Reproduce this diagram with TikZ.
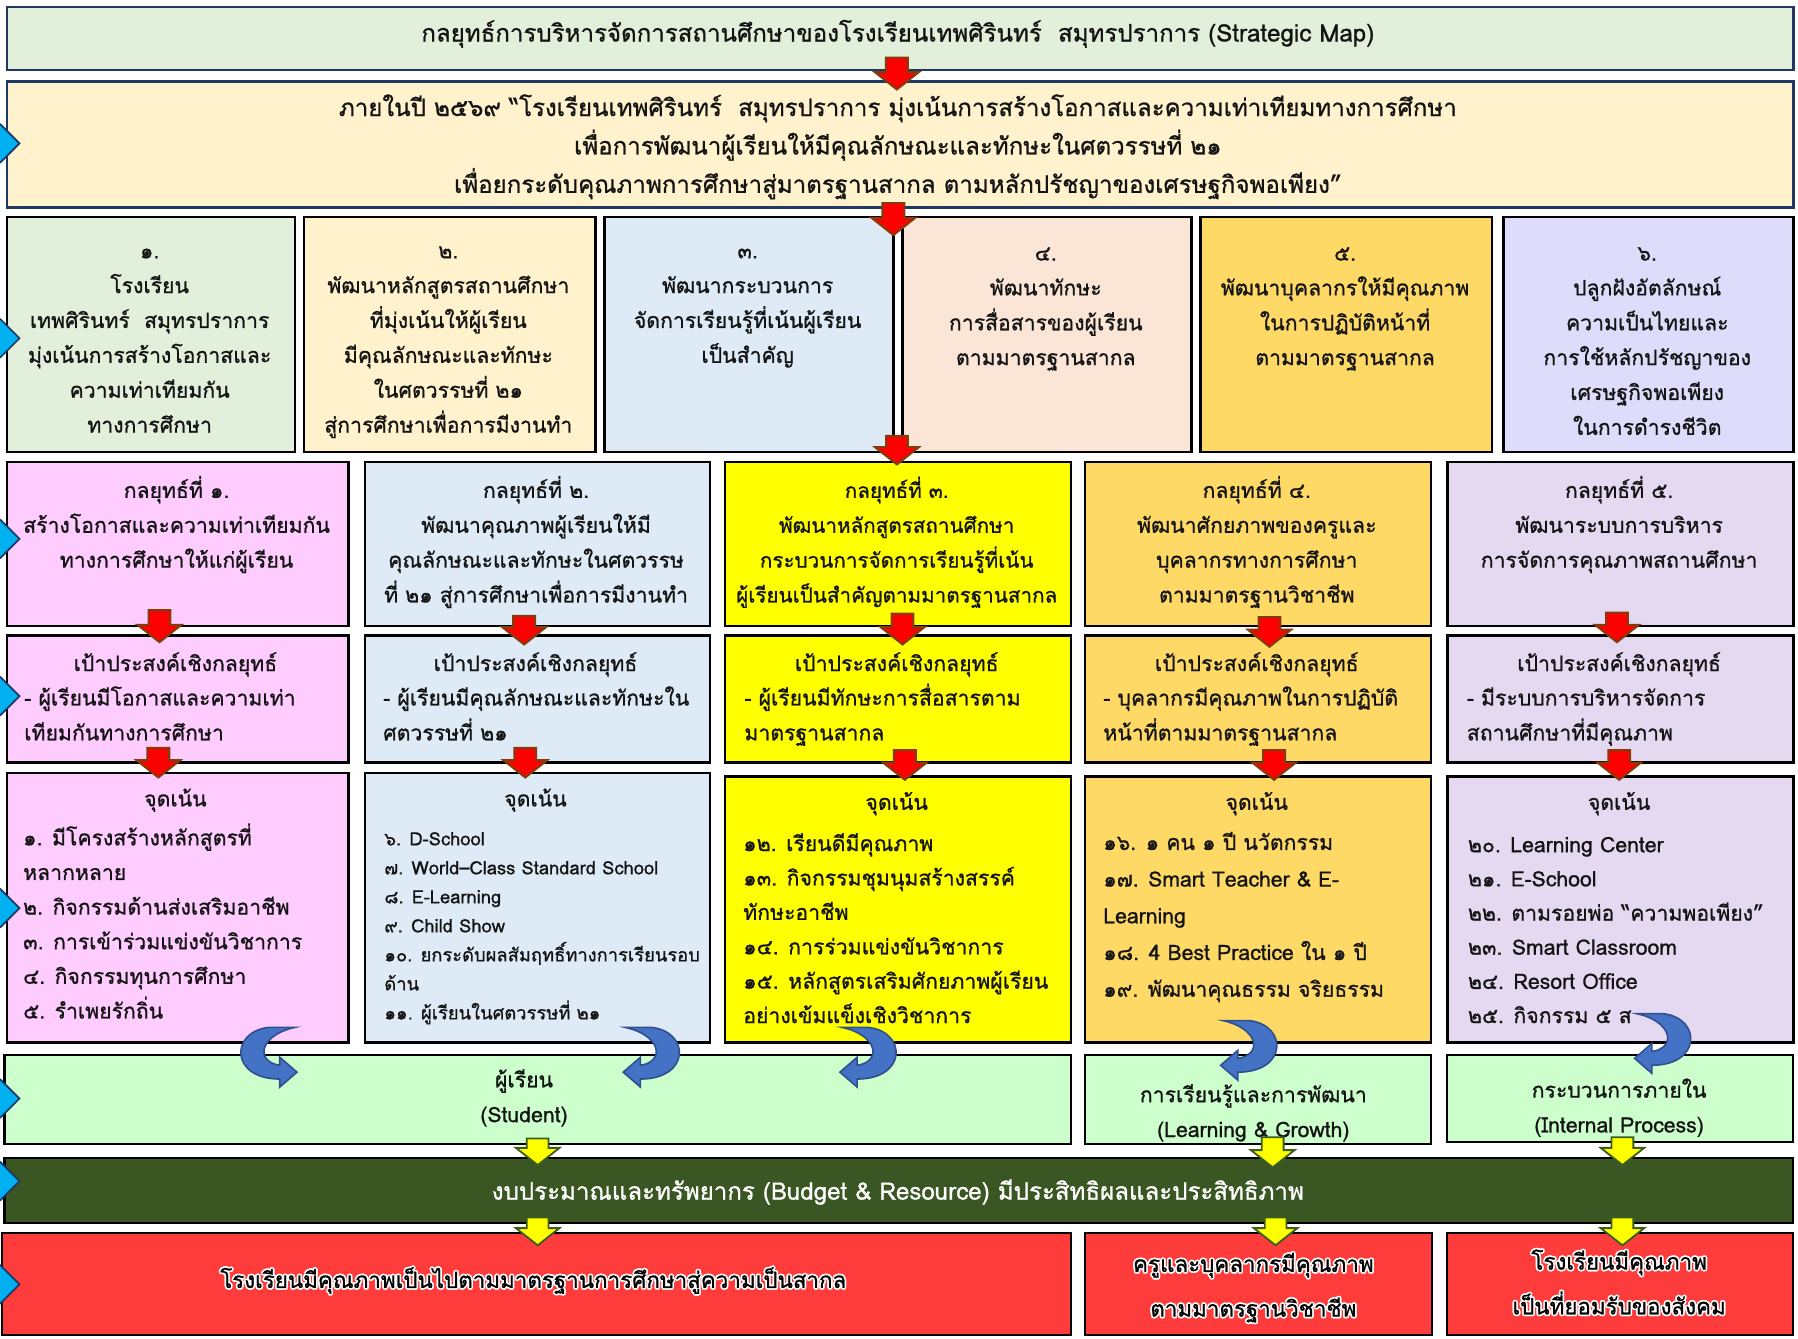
\documentclass[tikz,border=0pt]{standalone}
\usepackage{fontspec}
\setmainfont[Script=Thai, FakeBold=0.9]{Loma}
\usetikzlibrary{calc}
\definecolor{cTitle}{HTML}{E2EFDA}
\definecolor{cVision}{HTML}{FFF2CC}
\definecolor{cBlue}{HTML}{DEEBF7}
\definecolor{cPeach}{HTML}{FBE5D6}
\definecolor{cGold}{HTML}{FFD966}
\definecolor{cLav}{HTML}{DDDDFB}
\definecolor{cPink}{HTML}{FFCCFF}
\definecolor{cYel}{HTML}{FFFF00}
\definecolor{cLavB}{HTML}{E5D9F2}
\definecolor{cMint}{HTML}{CCFFCC}
\definecolor{cBudget}{HTML}{3A5623}
\definecolor{cRed}{HTML}{FF3C3C}
\definecolor{cNavy}{HTML}{1F3864}
\definecolor{cArrRed}{HTML}{FF0000}
\definecolor{cArrBrd}{HTML}{843C0C}
\definecolor{cArrYel}{HTML}{FFFF00}
\definecolor{cArrYelBrd}{HTML}{3B5E1E}
\definecolor{cCurv}{HTML}{4472C4}
\definecolor{cCurvBrd}{HTML}{2F4F8F}
\definecolor{cMark}{HTML}{00B0F0}
\definecolor{cTxt}{HTML}{141414}

\tikzset{
 boxbase/.style={draw=black, line width=2.2pt, anchor=north west, inner sep=0pt},
 navybox/.style={boxbase, draw=cNavy},
 thinbox/.style={boxbase, line width=1.8pt},
 txt/.style={inner sep=0pt, align=center, anchor=north, text=cTxt, font=\fontsize{18.5}{30.4}\selectfont},
 ltxt/.style={txt, align=left, anchor=north west},
 redarr/.style={fill=cArrRed, draw=cArrBrd, line width=1.8pt, line join=miter},
 yelarr/.style={fill=cArrYel, draw=cArrYelBrd, line width=1.6pt, line join=miter},
 curvarr/.style={fill=cCurv, draw=cCurvBrd, line width=1.4pt},
}

\newcommand\bx[6]{\node[#6, minimum width={#4-#2}, minimum height={#5-#3}] (#1) at (#2,#3) {};}
\newcommand\st{\rule{0pt}{22pt}}
\newcommand\blockarr[3]{\draw[#1] let \p1=#2, \p2=#3 in (\x1-9.5pt,\y1) -- (\x1+9.5pt,\y1) -- (\x1+9.5pt,\y2+15pt) -- (\x1+19pt,\y2+15pt) -- (\x1,\y2) -- (\x1-19pt,\y2+15pt) -- (\x1-9.5pt,\y2+15pt) -- cycle;}
\newcommand\curv[3]{\begin{scope}[shift={(#1,#2)}, xscale=#3]
 \filldraw[curvarr] (-11.5,0) .. controls (-45,4) and (-45,45) .. (-1.5,45) -- (-1.5,52) -- (13.5,39) -- (-1.5,26) -- (-1.5,33) .. controls (-23,30) and (-20,7) .. (11.5,0) -- cycle;
 \end{scope}}
\newcommand\glow[1]{\leavevmode\rlap{\color{white}\kern1.5pt#1}\rlap{\color{white}\kern-1.5pt#1}\rlap{\color{white}\raisebox{1.5pt}{#1}}\rlap{\color{white}\raisebox{-1.5pt}{#1}}\rlap{\color{white}\kern1.1pt\raisebox{1.1pt}{#1}}\rlap{\color{white}\kern-1.1pt\raisebox{1.1pt}{#1}}\rlap{\color{white}\kern1.1pt\raisebox{-1.1pt}{#1}}\rlap{\color{white}\kern-1.1pt\raisebox{-1.1pt}{#1}}#1}

\begin{document}
\begin{tikzpicture}[x=1pt,y=-1pt]
\fill[white] (0,0) rectangle (1568,1167);
\useasboundingbox (0,0) rectangle (1568,1167);

% ---- title and vision
\bx{title}{5}{5}{1563}{60}{navybox, fill=cTitle}
\node[txt, font=\fontsize{21}{30}\selectfont] (titlet) at (783,14) {\st กลยุทธ์การบริหารจัดการสถานศึกษาของโรงเรียนเทพศิรินทร์~~สมุทรปราการ (Strategic Map)};
\bx{vision}{5}{70}{1563}{180}{navybox, fill=cVision}
\node[txt, font=\fontsize{21}{33.5}\selectfont] (visiont) at (783,79) {\st ภายในปี ๒๕๖๙ “โรงเรียนเทพศิรินทร์~~สมุทรปราการ มุ่งเน้นการสร้างโอกาสและความเท่าเทียมทางการศึกษา\\ เพื่อการพัฒนาผู้เรียนให้มีคุณลักษณะและทักษะในศตวรรษที่ ๒๑\\ เพื่อยกระดับคุณภาพการศึกษาสู่มาตรฐานสากล ตามหลักปรัชญาของเศรษฐกิจพอเพียง”};

% ---- missions
\bx{p1}{5}{188}{256}{393}{boxbase, fill=cTitle}
\bx{p2}{264}{188}{518}{393}{boxbase, fill=cVision}
\bx{p3}{526}{188}{778}{393}{boxbase, fill=cBlue}
\bx{p4}{786}{188}{1038}{393}{boxbase, fill=cPeach}
\bx{p5}{1046}{188}{1300}{393}{boxbase, fill=cGold}
\bx{p6}{1310}{188}{1563}{393}{boxbase, fill=cLav}
\node[txt] (p1t) at (130.5,203) {\st ๑.\\ โรงเรียน\\ เทพศิรินทร์~~สมุทรปราการ\\ มุ่งเน้นการสร้างโอกาสและ\\ ความเท่าเทียมกัน\\ ทางการศึกษา};
\node[txt] (p2t) at (391,203) {\st ๒.\\ พัฒนาหลักสูตรสถานศึกษา\\ ที่มุ่งเน้นให้ผู้เรียน\\ มีคุณลักษณะและทักษะ\\ ในศตวรรษที่ ๒๑\\ สู่การศึกษาเพื่อการมีงานทำ};
\node[txt] (p3t) at (652,203) {\st ๓.\\ พัฒนากระบวนการ\\ จัดการเรียนรู้ที่เน้นผู้เรียน\\ เป็นสำคัญ};
\node[txt] (p4t) at (912,205) {\st ๔.\\ พัฒนาทักษะ\\ การสื่อสารของผู้เรียน\\ ตามมาตรฐานสากล};
\node[txt] (p5t) at (1173,205) {\st ๕.\\ พัฒนาบุคลากรให้มีคุณภาพ\\ ในการปฏิบัติหน้าที่\\ ตามมาตรฐานสากล};
\node[txt] (p6t) at (1436.5,205) {\st ๖.\\ ปลูกฝังอัตลักษณ์\\ ความเป็นไทยและ\\ การใช้หลักปรัชญาของ\\ เศรษฐกิจพอเพียง\\ ในการดำรงชีวิต};

% ---- strategies
\bx{s1}{5}{402}{303}{545}{boxbase, fill=cPink}
\bx{s2}{317}{402}{618}{545}{boxbase, fill=cBlue}
\bx{s3}{631}{402}{933}{545}{boxbase, fill=cYel}
\bx{s4}{945}{402}{1247}{545}{boxbase, fill=cGold}
\bx{s5}{1261}{402}{1563}{545}{boxbase, fill=cLavB}
\node[txt] (s1t) at (154,412) {\st กลยุทธ์ที่ ๑.\\ สร้างโอกาสและความเท่าเทียมกัน\\ ทางการศึกษาให้แก่ผู้เรียน};
\node[txt] (s2t) at (467.5,412) {\st กลยุทธ์ที่ ๒.\\ พัฒนาคุณภาพผู้เรียนให้มี\\ คุณลักษณะและทักษะในศตวรรษ\\ ที่ ๒๑ สู่การศึกษาเพื่อการมีงานทำ};
\node[txt, font=\fontsize{18}{30.4}\selectfont] (s3t) at (782,412) {\st กลยุทธ์ที่ ๓.\\ พัฒนาหลักสูตรสถานศึกษา\\ กระบวนการจัดการเรียนรู้ที่เน้น\\ ผู้เรียนเป็นสำคัญตามมาตรฐานสากล};
\node[txt] (s4t) at (1096,412) {\st กลยุทธ์ที่ ๔.\\ พัฒนาศักยภาพของครูและ\\ บุคลากรทางการศึกษา\\ ตามมาตรฐานวิชาชีพ};
\node[txt] (s5t) at (1412,412) {\st กลยุทธ์ที่ ๕.\\ พัฒนาระบบการบริหาร\\ การจัดการคุณภาพสถานศึกษา};

% ---- goals
\bx{g1}{5}{553}{303}{664}{boxbase, fill=cPink}
\bx{g2}{317}{553}{618}{664}{boxbase, fill=cBlue}
\bx{g3}{631}{553}{933}{664}{boxbase, fill=cYel}
\bx{g4}{945}{553}{1247}{664}{boxbase, fill=cGold}
\bx{g5}{1261}{553}{1563}{664}{boxbase, fill=cLavB}
\node[txt] (g1h) at (153,563) {\st เป้าประสงค์เชิงกลยุทธ์};
\node[txt] (g2h) at (467,563) {\st เป้าประสงค์เชิงกลยุทธ์};
\node[txt] (g3h) at (782,563) {\st เป้าประสงค์เชิงกลยุทธ์};
\node[txt] (g4h) at (1096,563) {\st เป้าประสงค์เชิงกลยุทธ์};
\node[txt] (g5h) at (1412,563) {\st เป้าประสงค์เชิงกลยุทธ์};
\node[ltxt] (g1b) at (21,593) {\st - ผู้เรียนมีโอกาสและความเท่า\\ เทียมกันทางการศึกษา};
\node[ltxt] (g2b) at (334,593) {\st - ผู้เรียนมีคุณลักษณะและทักษะใน\\ ศตวรรษที่ ๒๑};
\node[ltxt] (g3b) at (649,593) {\st - ผู้เรียนมีทักษะการสื่อสารตาม\\ มาตรฐานสากล};
\node[ltxt] (g4b) at (962,593) {\st - บุคลากรมีคุณภาพในการปฏิบัติ\\ หน้าที่ตามมาตรฐานสากล};
\node[ltxt] (g5b) at (1279,593) {\st - มีระบบการบริหารจัดการ\\ สถานศึกษาที่มีคุณภาพ};

% ---- focus points
\bx{f1}{5}{673}{303}{908}{boxbase, fill=cPink}
\bx{f2}{317}{673}{618}{908}{boxbase, fill=cBlue}
\bx{f3}{631}{676}{933}{908}{boxbase, fill=cYel}
\bx{f4}{945}{676}{1247}{908}{boxbase, fill=cGold}
\bx{f5}{1261}{676}{1563}{908}{boxbase, fill=cLavB}
\node[txt] (f1h) at (153,681) {\st จุดเน้น};
\node[txt] (f2h) at (467,681) {\st จุดเน้น};
\node[txt] (f3h) at (782,684) {\st จุดเน้น};
\node[txt] (f4h) at (1096,684) {\st จุดเน้น};
\node[txt] (f5h) at (1412,684) {\st จุดเน้น};
\node[ltxt, font=\fontsize{18.5}{30.2}\selectfont] (f1b) at (20,715) {\st ๑. มีโครงสร้างหลักสูตรที่\\ หลากหลาย\\ ๒. กิจกรรมด้านส่งเสริมอาชีพ\\ ๓. การเข้าร่วมแข่งขันวิชาการ\\ ๔. กิจกรรมทุนการศึกษา\\ ๕. รำเพยรักถิ่น};
\node[ltxt, font=\fontsize{16}{25.3}\selectfont] (f2b) at (335,715) {\st ๖. D-School\\ ๗. World–Class Standard School\\ ๘. E-Learning\\ ๙. Child Show\\ ๑๐. ยกระดับผลสัมฤทธิ์ทางการเรียนรอบ\\ ด้าน\\ ๑๑. ผู้เรียนในศตวรรษที่ ๒๑};
\node[ltxt, font=\fontsize{18.5}{30}\selectfont] (f3b) at (648,720) {\st ๑๒. เรียนดีมีคุณภาพ\\ ๑๓. กิจกรรมชุมนุมสร้างสรรค์\\ ทักษะอาชีพ\\ ๑๔. การร่วมแข่งขันวิชาการ\\ ๑๕. หลักสูตรเสริมศักยภาพผู้เรียน\\ อย่างเข้มแข็งเชิงวิชาการ};
\node[ltxt, font=\fontsize{18.5}{32}\selectfont] (f4b) at (962,719) {\st ๑๖. ๑ คน ๑ ปี นวัตกรรม\\ ๑๗. Smart Teacher \& E-\\ Learning\\ ๑๘. 4 Best Practice ใน ๑ ปี\\ ๑๙. พัฒนาคุณธรรม จริยธรรม};
\node[ltxt, font=\fontsize{18.5}{29.8}\selectfont] (f5b) at (1280,721) {\st ๒๐. Learning Center\\ ๒๑. E-School\\ ๒๒. ตามรอยพ่อ “ความพอเพียง”\\ ๒๓. Smart Classroom\\ ๒๔. Resort Office\\ ๒๕. กิจกรรม ๕ ส};

% ---- perspectives
\bx{stu}{3}{919}{933}{997}{thinbox, fill=cMint}
\bx{lg}{945}{919}{1247}{997}{thinbox, fill=cMint}
\bx{ip}{1261}{919}{1563}{995}{thinbox, fill=cMint}
\node[txt] (stut) at (457,926) {\st ผู้เรียน\\ (Student)};
\node[txt] (lgt) at (1093,939) {\st การเรียนรู้และการพัฒนา\\ (Learning \& Growth)};
\node[txt] (ipt) at (1412,935) {\st กระบวนการภายใน\\ (Internal Process)};

% ---- budget
\bx{budget}{3}{1009}{1563}{1066}{thinbox, fill=cBudget}
\node[txt, text=white, font=\fontsize{21}{30}\selectfont] (budgett) at (783,1024) {\st งบประมาณและทรัพยากร (Budget \& Resource) มีประสิทธิผลและประสิทธิภาพ};

% ---- results
\bx{r1}{1}{1074}{933}{1163}{thinbox, fill=cRed}
\bx{r2}{945}{1074}{1248}{1163}{thinbox, fill=cRed}
\bx{r3}{1261}{1074}{1563}{1163}{thinbox, fill=cRed}
\node[txt, text=black, font=\fontsize{19.5}{39}\selectfont] (r1t) at (465,1101) {\st\glow{โรงเรียนมีคุณภาพเป็นไปตามมาตรฐานการศึกษาสู่ความเป็นสากล}};
\node[txt, text=black, font=\fontsize{19.5}{39}\selectfont] (r2t) at (1093,1087) {\st\glow{ครูและบุคลากรมีคุณภาพ}\\ \glow{ตามมาตรฐานวิชาชีพ}};
\node[txt, text=black, font=\fontsize{19.5}{39}\selectfont] (r3t) at (1412,1085) {\st\glow{โรงเรียนมีคุณภาพ}\\ \glow{เป็นที่ยอมรับของสังคม}};

% ---- red block arrows
\blockarr{redarr}{($(title.south)+(-3,-12)$)}{($(vision.north)+(-3,8)$)}
\blockarr{redarr}{($(vision.south)+(-6,-5)$)}{($(p3.north east)+(0,17)$)}
\blockarr{redarr}{($(p3.south east)+(2,-15)$)}{($(s3.north)+(0,3)$)}
\blockarr{redarr}{($(s1.south)+(-16,-15)$)}{($(g1.north)+(-16,7)$)}
\blockarr{redarr}{($(s2.south)+(-11.5,-10)$)}{($(g2.north)+(-11.5,9)$)}
\blockarr{redarr}{($(s3.south)+(4,-12)$)}{($(g3.north)+(4,9)$)}
\blockarr{redarr}{($(s4.south)+(10,-9)$)}{($(g4.north)+(10,11)$)}
\blockarr{redarr}{($(s5.south)+(-3,-13)$)}{($(g5.north)+(-3,7)$)}
\blockarr{redarr}{($(g1.south)+(-17,-14)$)}{($(f1.north)+(-17,5)$)}
\blockarr{redarr}{($(g2.south)+(-10.5,-14)$)}{($(f2.north)+(-10.5,5)$)}
\blockarr{redarr}{($(g3.south)+(6,-12)$)}{($(f3.north)+(6,4)$)}
\blockarr{redarr}{($(g4.south)+(14,-12)$)}{($(f4.north)+(14,4)$)}
\blockarr{redarr}{($(g5.south)+(-1,-12)$)}{($(f5.north)+(-1,4)$)}

% ---- yellow block arrows
\blockarr{yelarr}{($(stu.south)+(0,-6)$)}{($(budget.north)+(0,7)$)}
\blockarr{yelarr}{($(lg.south)+(13,-7)$)}{($(budget.north)+(0,9)$)}
\blockarr{yelarr}{($(ip.south)+(2,-5)$)}{($(budget.north)+(0,7)$)}
\blockarr{yelarr}{($(budget.south -| stu.south)+(0,-6)$)}{($(r1.north)+(0,12)$)}
\blockarr{yelarr}{($(budget.south -| r2.north)+(15,-6)$)}{($(r2.north)+(0,12)$)}
\blockarr{yelarr}{($(budget.south -| r3.north)+(2,-6)$)}{($(r3.north)+(0,12)$)}

% ---- curved arrows
\curv{245.5}{896}{1}
\curv{557}{896}{-1}
\curv{746}{896}{-1}
\curv{1078}{890}{-1}
\curv{1439}{884}{-1}

% ---- left markers
\foreach \yy in {125,295,470,607,792,958,1030,1120}{
 \fill[cMark] (0,\yy-17) -- (17,\yy) -- (0,\yy+17) -- cycle;
 \draw[cNavy, line width=1.5pt, line join=miter] (0,\yy-17) -- (17,\yy) -- (0,\yy+17);
}
\end{tikzpicture}
\end{document}
